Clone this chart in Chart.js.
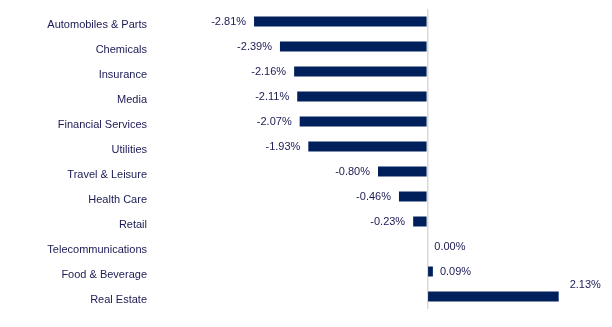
<!DOCTYPE html>
<html>
<head>
<meta charset="utf-8">
<script src="https://cdn.jsdelivr.net/npm/chart.js@4"></script>
<style>
  html, body { margin: 0; padding: 0; background: #fff; }
  #wrap { width: 612px; height: 327px; position: relative; }
</style>
</head>
<body>
<div id="wrap"><canvas id="barChart"></canvas></div>
<script>
// sector performance, %
const sectors = [
    "Automobiles & Parts", "Chemicals", "Insurance", "Media", "Financial Services",
    "Utilities", "Travel & Leisure", "Health Care", "Retail", "Telecommunications",
    "Food & Beverage", "Real Estate"
];
const changes = [-2.81, -2.39, -2.16, -2.11, -2.07, -1.93, -0.80, -0.46, -0.23, 0.00, 0.09, 2.13];

const barColor = "#00205b";
const textColor = "#1a1a55";

// draws the value labels next to the bar ends
const valueLabels = {
    id: "valueLabels",
    afterDatasetsDraw(chart) {
        const ctx = chart.ctx;
        const meta = chart.getDatasetMeta(0);
        ctx.save();
        ctx.font = "11px 'Liberation Sans', sans-serif";
        ctx.fillStyle = textColor;
        ctx.textBaseline = "middle";
        meta.data.forEach(function(bar, i) {
            const v = changes[i];
            const txt = v.toFixed(2) + "%";
            if (v < 0) {
                ctx.textAlign = "right";
                ctx.fillText(txt, bar.x - 8, bar.y);
            } else if (v > 1) {
                // long positive bar: label sits above and past the end
                ctx.textAlign = "left";
                ctx.fillText(txt, bar.x + 11, bar.y - 12);
            } else {
                ctx.textAlign = "left";
                ctx.fillText(txt, bar.x + 7, bar.y);
            }
        });
        ctx.restore();
    }
};

new Chart("barChart", {
    type: "bar",
    data: {
        labels: sectors,
        datasets: [{
            data: changes,
            backgroundColor: barColor,
            categoryPercentage: 0.8,
            barPercentage: 0.5
        }]
    },
    options: {
        indexAxis: "y",
        responsive: true,
        maintainAspectRatio: false,
        animation: false,
        layout: {
            padding: { top: 9, bottom: 18, right: 12, left: 0 }
        },
        plugins: {
            legend: { display: false },
            tooltip: { enabled: false }
        },
        scales: {
            x: {
                min: -4.4,
                max: 2.8,
                ticks: { display: false },
                border: { display: false },
                grid: {
                    drawTicks: false,
                    color: function(c) {
                        return c.tick && c.tick.value === 0 ? "#d9d9d9" : "transparent";
                    },
                    lineWidth: 1.5
                },
                afterBuildTicks: function(axis) {
                    axis.ticks = [{ value: 0 }];
                }
            },
            y: {
                grid: { display: false },
                border: { display: false },
                ticks: {
                    color: textColor,
                    padding: 1,
                    labelOffset: 3,
                    font: { family: "'Liberation Sans', sans-serif", size: 11 }
                },
                afterFit: function(axis) {
                    axis.width = 156;
                }
            }
        }
    },
    plugins: [valueLabels]
});
</script>
</body>
</html>
